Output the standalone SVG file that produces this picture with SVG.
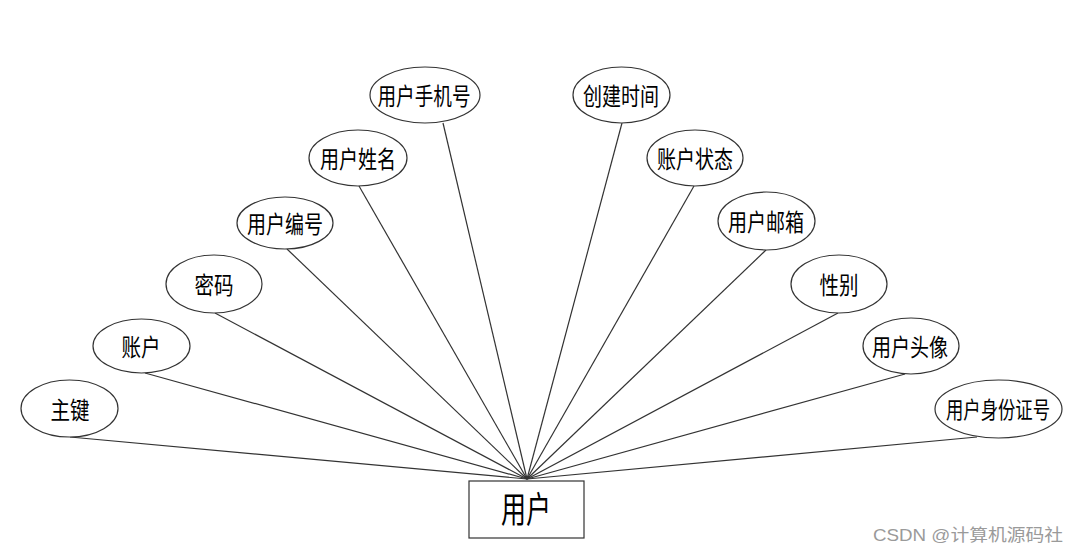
<svg xmlns="http://www.w3.org/2000/svg" width="1079" height="553" viewBox="0 0 1079 553">
<style>
.e{fill:#fff;stroke:#333;stroke-width:1.2}
.t{font-family:"Liberation Sans","Noto Sans CJK SC",sans-serif;font-size:24px;fill:#000;text-anchor:middle;dominant-baseline:central}
.c line{stroke:#333;stroke-width:1.2}
</style>
<rect width="1079" height="553" fill="#fff"/>
<g id="connectors" class="c">
<line x1="70" y1="437" x2="527" y2="479"/>
<line x1="145" y1="373" x2="527" y2="479"/>
<line x1="215" y1="313" x2="527" y2="479"/>
<line x1="287" y1="249" x2="527" y2="479"/>
<line x1="359" y1="186" x2="527" y2="479"/>
<line x1="443" y1="123" x2="527" y2="479"/>
<line x1="622" y1="123" x2="527" y2="479"/>
<line x1="694" y1="186" x2="527" y2="479"/>
<line x1="766" y1="250" x2="527" y2="479"/>
<line x1="838" y1="313" x2="527" y2="479"/>
<line x1="905" y1="374" x2="527" y2="479"/>
<line x1="977" y1="437" x2="527" y2="479"/>
</g>
<g id="n-user">
<rect x="469" y="481" width="115" height="57" fill="#fff" stroke="#333" stroke-width="1.2"/>
<text class="t" x="526" y="510" style="font-size:36px" textLength="50" lengthAdjust="spacingAndGlyphs">用户</text>
</g>
<g id="n-zhujian"><ellipse class="e" cx="69.5" cy="408.5" rx="48.5" ry="28.5"/><text class="t" x="70" y="410" textLength="39" lengthAdjust="spacingAndGlyphs">主键</text></g>
<g id="n-zhanghu"><ellipse class="e" cx="141.5" cy="346" rx="48.5" ry="27"/><text class="t" x="141" y="347" textLength="39" lengthAdjust="spacingAndGlyphs">账户</text></g>
<g id="n-mima"><ellipse class="e" cx="214" cy="284" rx="48" ry="29"/><text class="t" x="214" y="285" textLength="39" lengthAdjust="spacingAndGlyphs">密码</text></g>
<g id="n-bianhao"><ellipse class="e" cx="285" cy="223" rx="48" ry="26"/><text class="t" x="285" y="224" textLength="76" lengthAdjust="spacingAndGlyphs">用户编号</text></g>
<g id="n-xingming"><ellipse class="e" cx="358" cy="158" rx="49" ry="28"/><text class="t" x="358" y="159" textLength="76" lengthAdjust="spacingAndGlyphs">用户姓名</text></g>
<g id="n-shouji"><ellipse class="e" cx="425" cy="95" rx="55" ry="28"/><text class="t" x="424" y="96" textLength="93" lengthAdjust="spacingAndGlyphs">用户手机号</text></g>
<g id="n-chuangjian"><ellipse class="e" cx="621.5" cy="95" rx="48.5" ry="28"/><text class="t" x="621" y="96" textLength="76" lengthAdjust="spacingAndGlyphs">创建时间</text></g>
<g id="n-zhuangtai"><ellipse class="e" cx="695" cy="158" rx="48" ry="28"/><text class="t" x="695" y="159" textLength="76" lengthAdjust="spacingAndGlyphs">账户状态</text></g>
<g id="n-youxiang"><ellipse class="e" cx="766.5" cy="221" rx="48.5" ry="29"/><text class="t" x="766" y="222" textLength="76" lengthAdjust="spacingAndGlyphs">用户邮箱</text></g>
<g id="n-xingbie"><ellipse class="e" cx="839" cy="284" rx="48" ry="29"/><text class="t" x="839" y="285" textLength="39" lengthAdjust="spacingAndGlyphs">性别</text></g>
<g id="n-touxiang"><ellipse class="e" cx="911" cy="346" rx="48" ry="28"/><text class="t" x="910" y="347" textLength="76" lengthAdjust="spacingAndGlyphs">用户头像</text></g>
<g id="n-shenfen"><ellipse class="e" cx="998.5" cy="409" rx="63.5" ry="29"/><text class="t" x="998" y="410" style="font-size:23px" textLength="104" lengthAdjust="spacingAndGlyphs">用户身份证号</text></g>
<text x="873" y="541" font-family="'Liberation Sans','Noto Sans CJK SC',sans-serif" font-size="17" fill="#9a9a9a" textLength="190" lengthAdjust="spacingAndGlyphs">CSDN @计算机源码社</text>
</svg>
